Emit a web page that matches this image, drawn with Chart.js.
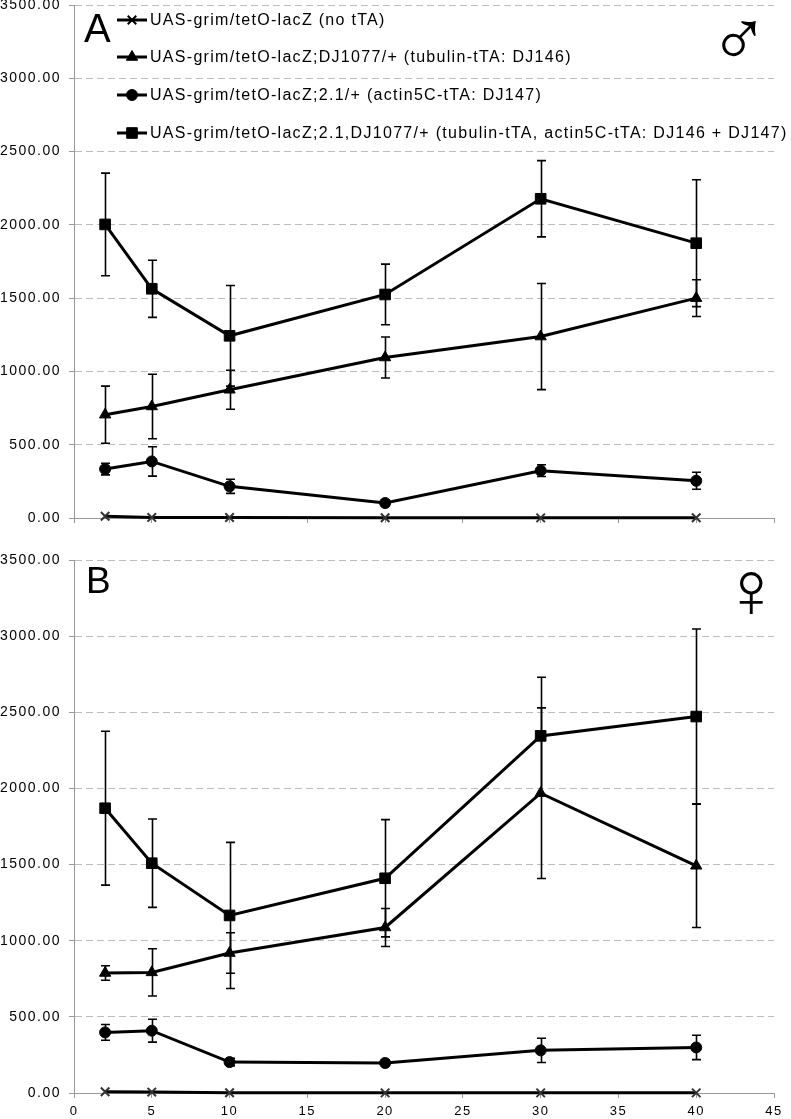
<!DOCTYPE html>
<html>
<head>
<meta charset="utf-8">
<script src="https://cdn.jsdelivr.net/npm/chart.js@4.4.0/dist/chart.umd.min.js"></script>
<style>
  body { margin: 0; background: #fff; }
  #wrap { position: relative; width: 791px; height: 1119px; }
  .panel { position: absolute; left: 0; width: 791px; }
  #top { top: 0; height: 540px; }
  #bottom { top: 540px; height: 579px; }
</style>
</head>
<body>
<div id="wrap">
  <div class="panel" id="top"><canvas id="chartA"></canvas></div>
  <div class="panel" id="bottom"><canvas id="chartB"></canvas></div>
</div>
<script>
// age (days)
const days = [2, 5, 10, 20, 30, 40];

const seriesNames = [
  'UAS-grim/tetO-lacZ (no tTA)',
  'UAS-grim/tetO-lacZ;DJ1077/+ (tubulin-tTA: DJ146)',
  'UAS-grim/tetO-lacZ;2.1/+ (actin5C-tTA: DJ147)',
  'UAS-grim/tetO-lacZ;2.1,DJ1077/+ (tubulin-tTA, actin5C-tTA: DJ146 + DJ147)'
];

// A - males
const maleNoTTA = [12, 4, 3, 2, 1, 2];
const maleNoTTAErr = [0, 0, 0, 0, 0, 0];
const maleTub = [705, 761, 875, 1095, 1238, 1500];
const maleTubErr = [195, 220, 133, 140, 362, 125];
const maleAct = [334, 386, 216, 102, 323, 254];
const maleActErr = [40, 100, 48, 20, 40, 58];
const maleBoth = [2003, 1564, 1243, 1525, 2178, 1875];
const maleBothErr = [350, 195, 343, 207, 260, 433];

// B - females
const femNoTTA = [8, 6, 2, 1, 1, 1];
const femNoTTAErr = [0, 0, 0, 0, 0, 0];
const femTub = [788, 792, 919, 1087, 1969, 1492];
const femTubErr = [48, 155, 133, 125, 560, 405];
const femAct = [398, 409, 203, 197, 280, 299];
const femActErr = [52, 75, 25, 20, 80, 80];
const femBoth = [1870, 1509, 1166, 1410, 2345, 2472];
const femBothErr = [505, 290, 480, 385, 385, 575];

const yTicks = [0, 500, 1000, 1500, 2000, 2500, 3000, 3500];

const FONT = '"Liberation Sans", Arial, Helvetica, sans-serif';
const markers = [
  { pointStyle: 'crossRot', radius: 6, borderWidth: 2 },
  { pointStyle: 'triangle', radius: 6.5, borderWidth: 1 },
  { pointStyle: 'circle', radius: 5.5, borderWidth: 1 },
  { pointStyle: 'rect', radius: 7.5, borderWidth: 1 }
];

function makeDataset(i, values, errs) {
  return {
    label: seriesNames[i],
    data: days.map((d, k) => ({ x: d, y: values[k] })),
    errors: errs,
    borderColor: '#000',
    backgroundColor: '#000',
    borderWidth: 3,
    pointStyle: markers[i].pointStyle,
    pointRadius: markers[i].radius,
    pointBorderWidth: markers[i].borderWidth,
    pointBorderColor: i === 0 ? '#333' : '#000',
    pointBackgroundColor: '#000',
    tension: 0,
    clip: false
  };
}

// draws the vertical error bars with caps
const errorBars = {
  id: 'errorBars',
  afterDatasetsDraw(chart) {
    const ctx = chart.ctx, xs = chart.scales.x, ys = chart.scales.y;
    ctx.save();
    ctx.strokeStyle = '#000';
    ctx.lineWidth = 1.6;
    chart.data.datasets.forEach(ds => {
      if (!ds.errors) return;
      ds.data.forEach((p, i) => {
        const e = ds.errors[i];
        if (!e) return;
        const x = Math.round(xs.getPixelForValue(p.x)) + 0.5;
        const y1 = ys.getPixelForValue(p.y + e);
        const y2 = ys.getPixelForValue(p.y - e);
        ctx.beginPath();
        ctx.moveTo(x, y1); ctx.lineTo(x, y2);
        ctx.moveTo(x - 4.5, y1); ctx.lineTo(x + 4.5, y1);
        ctx.moveTo(x - 4.5, y2); ctx.lineTo(x + 4.5, y2);
        ctx.stroke();
      });
    });
    ctx.restore();
  }
};

// the tick labels in the original are spaced out a little
const wideText = {
  id: 'wideText',
  beforeDraw(chart) { chart.ctx.letterSpacing = '1.5px'; },
  afterDraw(chart) { chart.ctx.letterSpacing = '0px'; }
};

// panel letter, sex symbol and the legend
const panelDeco = {
  id: 'panelDeco',
  afterDraw(chart, args, opts) {
    const ctx = chart.ctx;
    ctx.save();
    ctx.letterSpacing = '0px';
    ctx.fillStyle = '#000';
    ctx.textBaseline = 'alphabetic';
    ctx.font = opts.letterSize + 'px ' + FONT;
    ctx.fillText(opts.letter, opts.letterX, opts.letterY);
    ctx.font = opts.symbolSize + 'px ' + FONT;
    ctx.fillText(opts.symbol, opts.symbolX, opts.symbolY);
    if (opts.legend) {
      const rows = [20, 57, 95, 133];
      chart.data.datasets.forEach((ds, i) => {
        const y = rows[i];
        ctx.strokeStyle = '#000';
        ctx.lineWidth = 3;
        ctx.beginPath();
        ctx.moveTo(117, y); ctx.lineTo(147, y);
        ctx.stroke();
        ctx.fillStyle = '#000';
        ctx.strokeStyle = '#000';
        ctx.lineWidth = markers[i].borderWidth;
        Chart.helpers.drawPoint(ctx, {
          pointStyle: markers[i].pointStyle,
          radius: markers[i].radius,
          rotation: 0,
          borderWidth: markers[i].borderWidth
        }, 132, y);
        ctx.fillStyle = '#000';
        ctx.font = '16px ' + FONT;
        ctx.letterSpacing = '1.3px';
        ctx.textBaseline = 'middle';
        ctx.fillText(ds.label, 150, y + 1);
        ctx.letterSpacing = '0px';
      });
    }
    ctx.restore();
  }
};

function makeOptions(showXLabels, deco, padTop) {
  return {
    responsive: true,
    maintainAspectRatio: false,
    animation: false,
    layout: { autoPadding: false, padding: { top: padTop, right: 17, left: 0, bottom: 0 } },
    plugins: {
      legend: { display: false },
      tooltip: { enabled: false },
      panelDeco: deco
    },
    scales: {
      x: {
        type: 'linear',
        min: 0,
        max: 45,
        ticks: {
          stepSize: 5,
          display: showXLabels,
          color: '#000',
          font: { size: 13, family: FONT },
          padding: 6
        },
        grid: { drawOnChartArea: false, drawTicks: true, tickLength: 5, color: '#999' },
        border: { color: '#999', width: 1 },
        afterFit(scale) { scale.height = showXLabels ? 26 : 22; }
      },
      y: {
        min: 0,
        max: 3500,
        afterBuildTicks(scale) { scale.ticks = yTicks.map(v => ({ value: v })); },
        ticks: {
          color: '#000',
          font: { size: 14, family: FONT },
          padding: 8,
          callback: v => v.toFixed(2)
        },
        grid: { color: '#bdbdbd', lineWidth: 1, tickLength: 5, tickColor: '#999', tickBorderDash: [] },
        border: { color: '#999', width: 1, dash: [7, 4] },
        afterFit(scale) {
          scale.width = 74;
          scale.paddingTop = 0;
          scale.paddingBottom = 0;
        }
      }
    }
  };
}

new Chart(document.getElementById('chartA'), {
  type: 'line',
  data: {
    datasets: [
      makeDataset(0, maleNoTTA, maleNoTTAErr),
      makeDataset(1, maleTub, maleTubErr),
      makeDataset(2, maleAct, maleActErr),
      makeDataset(3, maleBoth, maleBothErr)
    ]
  },
  options: makeOptions(false, {
    letter: 'A', letterSize: 40, letterX: 84, letterY: 42,
    symbol: '\u2642', symbolSize: 80, symbolX: 709, symbolY: 66,
    legend: true
  }, 5),
  plugins: [wideText, errorBars, panelDeco]
});

new Chart(document.getElementById('chartB'), {
  type: 'line',
  data: {
    datasets: [
      makeDataset(0, femNoTTA, femNoTTAErr),
      makeDataset(1, femTub, femTubErr),
      makeDataset(2, femAct, femActErr),
      makeDataset(3, femBoth, femBothErr)
    ]
  },
  options: makeOptions(true, {
    letter: 'B', letterSize: 37, letterX: 86, letterY: 53,
    symbol: '\u2640', symbolSize: 80, symbolX: 721, symbolY: 77,
    legend: false
  }, 20),
  plugins: [wideText, errorBars, panelDeco]
});
</script>
</body>
</html>
